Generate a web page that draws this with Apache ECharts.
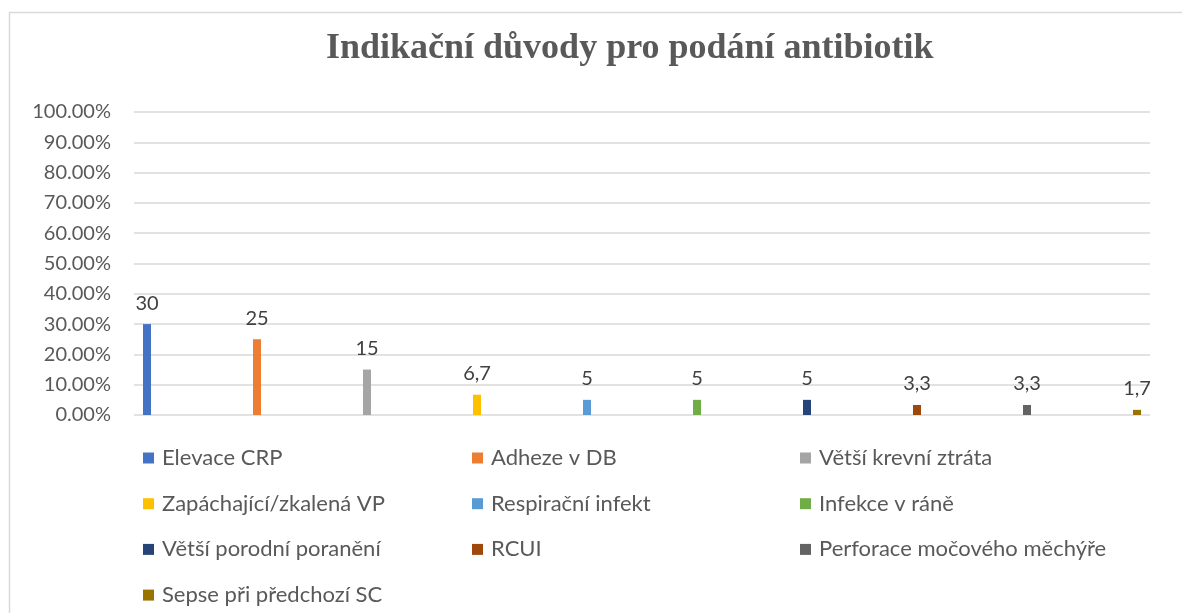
<!DOCTYPE html>
<html>
<head>
<meta charset="utf-8">
<script src="https://cdn.jsdelivr.net/npm/echarts@6/dist/echarts.min.js"></script>
<style>
  html, body { margin: 0; padding: 0; background: #fff; }
  #chart { width: 1182px; height: 613px; }
</style>
</head>
<body>
<div id="chart"></div>
<script>
const TITLE = "Indikační důvody pro podání antibiotik";
const seriesNames = [
  "Elevace CRP",
  "Adheze v DB",
  "Větší krevní ztráta",
  "Zapáchající/zkalená VP",
  "Respirační infekt",
  "Infekce v ráně",
  "Větší porodní poranění",
  "RCUI",
  "Perforace močového měchýře",
  "Sepse při předchozí SC",
];
const seriesValues = [30, 25, 15, 6.7, 5, 5, 5, 3.3, 3.3, 1.7];
const seriesColors = [
  "#4472c4", "#ed7d31", "#a5a5a5", "#ffc000", "#5b9bd5",
  "#70ad47", "#264478", "#9e480e", "#636363", "#997300",
];
const yTicks = [0, 10, 20, 30, 40, 50, 60, 70, 80, 90, 100];

const FONT = "Lato, 'Open Sans', sans-serif";
const TEXT = "#595959";

// legend laid out in 3 columns, Excel-style
const legendCols = [
  { left: 143, names: [0, 3, 6, 9] },
  { left: 472, names: [1, 4, 7] },
  { left: 800, names: [2, 5, 8] },
];

const chart = echarts.init(document.getElementById("chart"));

chart.setOption({
  animation: false,
  textStyle: { fontFamily: FONT },
  title: {
    text: TITLE,
    left: 326,
    top: 31,
    padding: 0,
    textStyle: {
      fontFamily: "'Liberation Serif', 'DejaVu Serif', serif",
      fontWeight: "bold",
      fontSize: 36,
      color: TEXT,
    },
  },
  graphic: [
    {
      type: "rect",
      silent: true,
      shape: { x: 9.5, y: 12.5, width: 1200, height: 700 },
      style: { fill: "none", stroke: "#d9d9d9", lineWidth: 1.5 },
    },
  ],
  grid: { left: 134, right: 32, top: 112, bottom: 198, containLabel: false },
  xAxis: {
    type: "category",
    data: [""],
    axisLine: { show: false },
    axisTick: { show: false },
    axisLabel: { show: false },
  },
  yAxis: {
    type: "value",
    min: yTicks[0],
    max: yTicks[yTicks.length - 1],
    interval: 10,
    axisLine: { show: false },
    axisTick: { show: false },
    axisLabel: {
      color: TEXT,
      fontSize: 20,
      fontFamily: FONT,
      margin: 23,
      formatter: (v) => v.toFixed(2) + "%",
    },
    splitLine: { lineStyle: { color: "#d9d9d9", width: 1.5 } },
  },
  legend: legendCols.map((col) => ({
    orient: "vertical",
    left: col.left,
    top: 446,
    padding: 0,
    itemWidth: 11,
    itemHeight: 11,
    itemGap: 21.7,
    icon: "rect",
    selectedMode: false,
    data: col.names.map((i) => seriesNames[i]),
    textStyle: { color: TEXT, fontSize: 22, fontFamily: FONT, lineHeight: 24, padding: [0, 0, 0, 3] },
  })),
  series: seriesNames.map((name, i) => ({
    name,
    type: "bar",
    barWidth: 8,
    barGap: "1275%",
    itemStyle: { color: seriesColors[i] },
    label: {
      show: true,
      position: "top",
      distance: 11,
      color: "#404040",
      fontSize: 20,
      fontFamily: FONT,
      formatter: (p) => String(p.value).replace(".", ","),
    },
    data: [seriesValues[i]],
  })),
});
</script>
</body>
</html>
